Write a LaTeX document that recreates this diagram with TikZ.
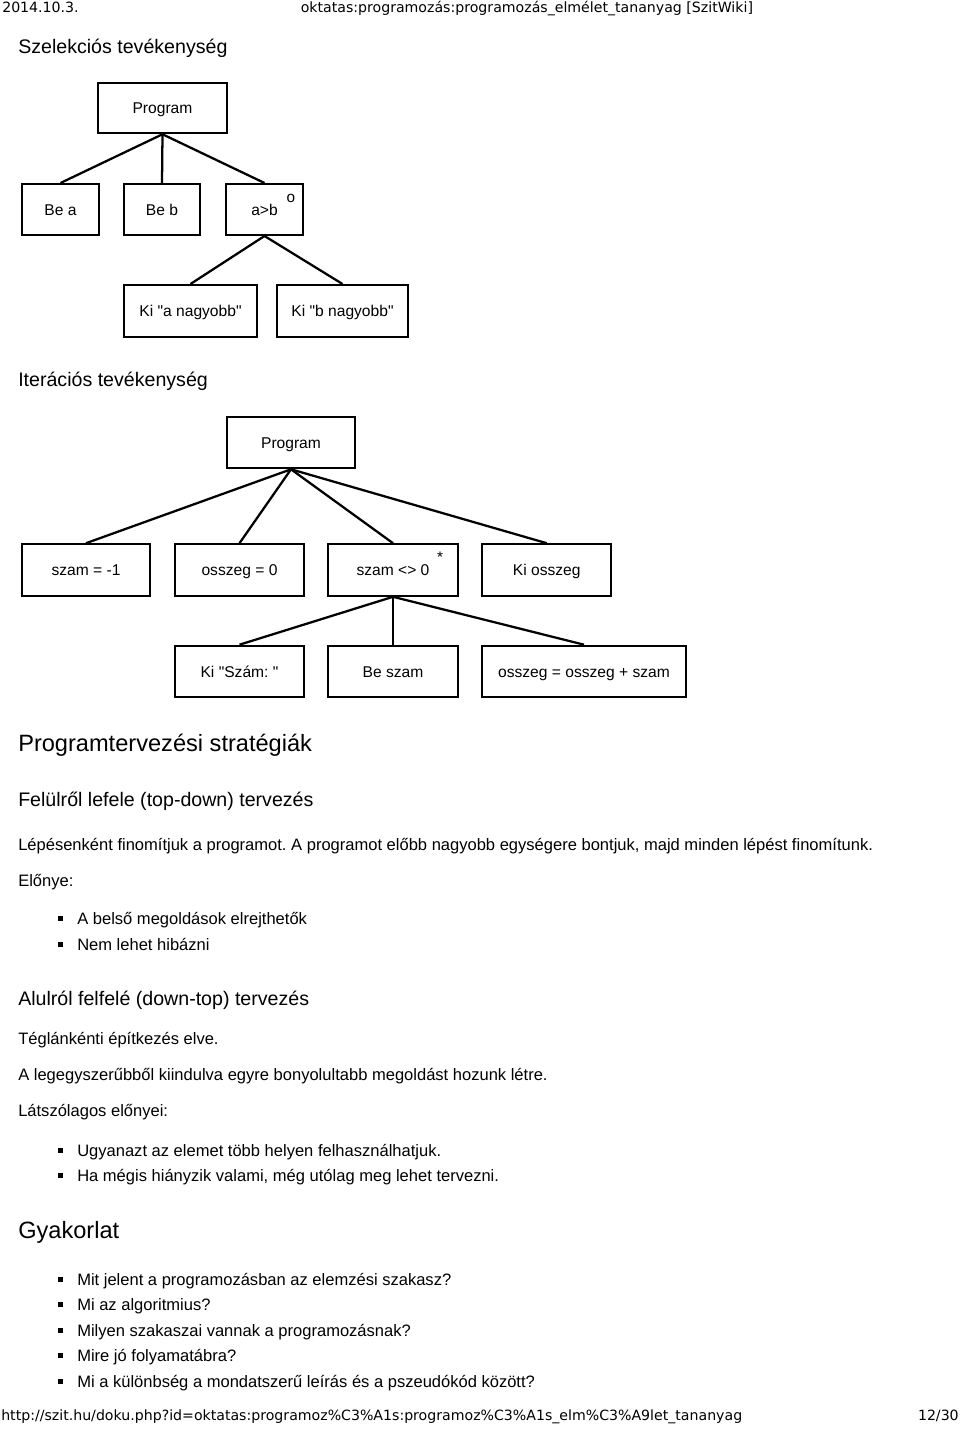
\documentclass[tikz,border=0pt]{standalone}
\usepackage{fontspec}
\setmainfont{Liberation Sans}
\newfontfamily\boxfont{Liberation Sans}
\newfontfamily\djv{DejaVu Sans}
\frenchspacing
\begin{document}
\begin{tikzpicture}[x=0.75pt,y=-0.75pt,
  txt/.style={anchor=base west, inner sep=0pt, font=\fontsize{12.4}{15}\selectfont},
  htwo/.style={anchor=base west, inner sep=0pt, font=\fontsize{14.7}{17}\selectfont},
  hone/.style={anchor=base west, inner sep=0pt, font=\fontsize{17.7}{21}\selectfont},
  hf/.style={anchor=base west, inner sep=0pt, font=\djv\fontsize{10.6}{12}\selectfont},
  box/.style={draw, line width=1.5pt, inner sep=0pt, text height=8.4pt, text depth=0pt,
              font=\boxfont\fontsize{11.7}{13}\selectfont},
  conn/.style={line width=1.7pt},
  boxmark/.style={inner sep=0pt, anchor=base, font=\boxfont\fontsize{11.5}{13}\selectfont}]
\useasboundingbox (0,0) rectangle (960,1433);
% header
\node[hf] (hdate) at (2,12.3) {2014.10.3.};
\node[hf] (htitle) at (300.5,12.3) {oktatas:programozás:programozás\_elmélet\_tananyag [SzitWiki]};
% section 1
\node[htwo] (s1) at (18,54) {Szelekciós tevékenység};
\node[box, minimum width=96.75pt, minimum height=37.9pt] (p1) at (162.5,108) {Program};
\node[box, minimum width=57.75pt, minimum height=38.25pt] (bea) at (60.5,209.5) {Be a};
\node[box, minimum width=57pt, minimum height=38.25pt] (beb) at (162,209.5) {Be b};
\node[box, minimum width=57.75pt, minimum height=38.25pt] (agb) at (264.5,209.5) {a>b};
\node[boxmark] (omark) at (291,202.2) {o};
\node[box, minimum width=99.75pt, minimum height=39pt] (kia) at (190.5,311) {Ki "a nagyobb"};
\node[box, minimum width=98.25pt, minimum height=39pt] (kib) at (342.5,311) {Ki "b nagyobb"};
\draw[conn] (p1.south) -- (bea.north);
\draw[conn] (p1.south) -- (beb.north);
\draw[conn] (p1.south) -- (agb.north);
\draw[conn] (agb.south) -- (kia.north);
\draw[conn] (agb.south) -- (kib.north);
% section 2
\node[htwo] (s2) at (18,386.7) {Iterációs tevékenység};
\node[box, minimum width=96.5pt, minimum height=38.7pt] (p2) at (291,442.5) {Program};
\node[box, minimum width=96.6pt, minimum height=38.7pt] (sz1) at (86,570) {szam = -1};
\node[box, minimum width=96.75pt, minimum height=38.7pt] (os0) at (239.5,570) {osszeg = 0};
\node[box, minimum width=96.9pt, minimum height=38.7pt] (sz0) at (393,570) {szam <> 0};
\node[boxmark] (star) at (440,562.5) {*};
\node[box, minimum width=96.5pt, minimum height=38.7pt] (kios) at (546.7,570) {Ki osszeg};
\node[box, minimum width=96.75pt, minimum height=38.7pt] (kisz) at (239.5,671.5) {Ki "Szám: "};
\node[box, minimum width=96.9pt, minimum height=38.7pt] (besz) at (393,671.5) {Be szam};
\node[box, minimum width=152.4pt, minimum height=38.7pt] (osos) at (584,671.5) {osszeg = osszeg + szam};
\draw[conn] (p2.south) -- (sz1.north);
\draw[conn] (p2.south) -- (os0.north);
\draw[conn] (p2.south) -- (sz0.north);
\draw[conn] (p2.south) -- (kios.north);
\draw[conn] (sz0.south) -- (kisz.north);
\draw[conn] (sz0.south) -- (besz.north);
\draw[conn] (sz0.south) -- (osos.north);
% strategies
\node[hone] (s3) at (18,751.7) {Programtervezési stratégiák};
\node[htwo] (s4) at (18,806.7) {Felülről lefele (top-down) tervezés};
\node[txt] (t1) at (18,850) {Lépésenként finomítjuk a programot. A programot előbb nagyobb egységere bontjuk, majd minden lépést finomítunk.};
\node[txt] (t2) at (18,886.7) {Előnye:};
\fill (57.5,915.8) rectangle (62.5,920.8);
\node[txt] (b1) at (77,924.3) {A belső megoldások elrejthetők};
\fill (57.5,941.5) rectangle (62.5,946.5);
\node[txt] (b2) at (77,950) {Nem lehet hibázni};
\node[htwo] (s5) at (18,1005) {Alulról felfelé (down-top) tervezés};
\node[txt] (t3) at (18,1044) {Téglánkénti építkezés elve.};
\node[txt] (t4) at (18,1080.7) {A legegyszerűbből kiindulva egyre bonyolultabb megoldást hozunk létre.};
\node[txt] (t5) at (18,1116.7) {Látszólagos előnyei:};
\fill (57.5,1147.5) rectangle (62.5,1152.5);
\node[txt] (b3) at (77,1156) {Ugyanazt az elemet több helyen felhasználhatjuk.};
\fill (57.5,1173.2) rectangle (62.5,1178.2);
\node[txt] (b4) at (77,1181.7) {Ha mégis hiányzik valami, még utólag meg lehet tervezni.};
% practice
\node[hone] (s6) at (18,1238.3) {Gyakorlat};
\fill (57.5,1276.5) rectangle (62.5,1281.5);
\node[txt] (g1) at (77,1285) {Mit jelent a programozásban az elemzési szakasz?};
\fill (57.5,1302) rectangle (62.5,1307);
\node[txt] (g2) at (77,1310.5) {Mi az algoritmius?};
\fill (57.5,1327.5) rectangle (62.5,1332.5);
\node[txt] (g3) at (77,1336) {Milyen szakaszai vannak a programozásnak?};
\fill (57.5,1353) rectangle (62.5,1358);
\node[txt] (g4) at (77,1361.5) {Mire jó folyamatábra?};
\fill (57.5,1378.5) rectangle (62.5,1383.5);
\node[txt] (g5) at (77,1387) {Mi a különbség a mondatszerű leírás és a pszeudókód között?};
% footer
\node[hf] (furl) at (1,1420.5) {http://szit.hu/doku.php?id=oktatas:programoz\%C3\%A1s:programoz\%C3\%A1s\_elm\%C3\%A9let\_tananyag};
\node[hf, anchor=base east] (fpage) at (959,1420.5) {12/30};
\end{tikzpicture}
\end{document}
